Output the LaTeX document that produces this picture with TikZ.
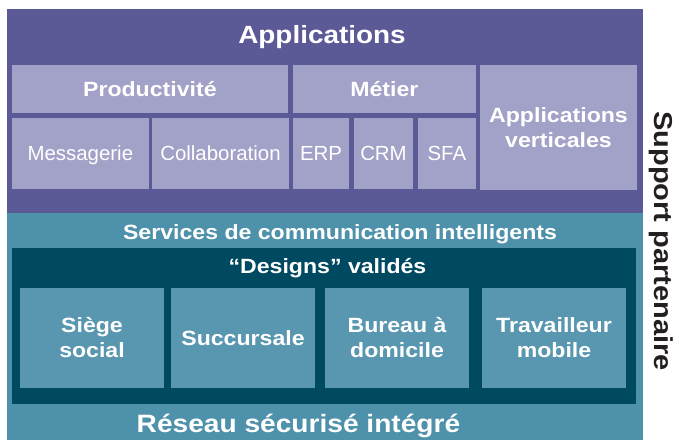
\documentclass[tikz,border=0pt]{standalone}
\usepackage{fontspec}
\setmainfont{Liberation Sans}
\newfontfamily\hb[FakeStretch=1.12]{Liberation Sans}
\definecolor{purp}{HTML}{5B5996}
\definecolor{lpurp}{HTML}{A2A1C7}
\definecolor{teal1}{HTML}{4E91AA}
\definecolor{teal2}{HTML}{5897AF}
\definecolor{dteal}{HTML}{004A61}
\definecolor{txtdark}{HTML}{231F20}
\tikzset{
  blk/.style={fill=#1, draw=none, inner sep=0pt, outer sep=0pt},
  lbl/.style={text=white, inner sep=0pt, outer sep=0pt, align=center, text depth=0pt},
  hd/.style={lbl, font=\hb\bfseries\fontsize{25}{30}\selectfont, text height=18pt},
  sub/.style={lbl, font=\hb\bfseries\fontsize{20.7}{25}\selectfont, text height=14.9pt},
  subtwo/.style={sub, text height=39.9pt, text depth=0pt},
  reg/.style={lbl, font=\fontsize{20.5}{25}\selectfont, text height=14.7pt},
  big/.style={lbl, font=\hb\bfseries\fontsize{25.2}{30}\selectfont, text height=18.1pt},
}
\begin{document}
\begin{tikzpicture}[x=1bp,y=-1bp]
\useasboundingbox (0,0) rectangle (679,440);
% background blocks
\node[blk=purp, minimum width=636bp, minimum height=203.7bp] (apps) at (325,110.85) {};
\node[blk=teal1, minimum width=636bp, minimum height=227.3bp] (net) at (325,326.35) {};
\node[hd] (appt) at (322,35) {Applications};
% application boxes
\node[blk=lpurp, sub, minimum width=276.3bp, minimum height=48bp] (prod) at (149.85,89) {Productivité};
\node[blk=lpurp, sub, minimum width=182.7bp, minimum height=48bp] (met) at (384.35,89) {Métier};
\node[blk=lpurp, subtwo, minimum width=157bp, minimum height=125bp] (appv) at (558.5,127.5) {Applications\\verticales};
\node[blk=lpurp, reg, minimum width=137.3bp, minimum height=71bp] (mess) at (80.35,153.2) {Messagerie};
\node[blk=lpurp, reg, minimum width=137bp, minimum height=71bp] (coll) at (220.5,153.2) {Collaboration};
\node[blk=lpurp, reg, minimum width=56bp, minimum height=71bp] (erp) at (321,153.2) {ERP};
\node[blk=lpurp, reg, minimum width=59bp, minimum height=71bp] (crm) at (383.5,153.2) {CRM};
\node[blk=lpurp, reg, minimum width=57.7bp, minimum height=71bp] (sfa) at (446.85,153.2) {SFA};
% network part
\node[sub] (serv) at (340,232.5) {Services de communication intelligents};
\node[blk=dteal, minimum width=624bp, minimum height=156bp] (des) at (324,325.7) {};
\node[sub] (dest) at (327.5,266) {“Designs” validés};
\node[blk=teal2, subtwo, minimum width=144bp, minimum height=99.7bp] (siege) at (92,337.85) {Siège\\social};
\node[blk=teal2, sub, minimum width=144bp, minimum height=99.7bp] (succ) at (243,337.85) {Succursale};
\node[blk=teal2, subtwo, minimum width=144bp, minimum height=99.7bp] (bur) at (397,337.85) {Bureau à\\domicile};
\node[blk=teal2, subtwo, minimum width=144bp, minimum height=99.7bp] (trav) at (554,337.85) {Travailleur\\mobile};
\node[big] (res) at (298.5,423) {Réseau sécurisé intégré};
\node[big, text=txtdark, rotate=-90, font=\hb\bfseries\fontsize{26}{30}\selectfont] (supp) at (664,241) {Support partenaire};
\end{tikzpicture}
\end{document}
